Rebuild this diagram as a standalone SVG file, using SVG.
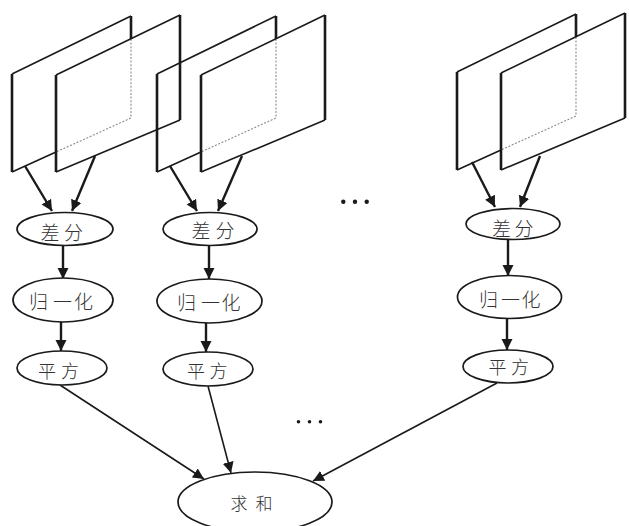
<svg xmlns="http://www.w3.org/2000/svg" xmlns:xlink="http://www.w3.org/1999/xlink" width="629" height="526" viewBox="0 0 629 526">
<style>
.bg{fill:#ffffff}
.edge{fill:none;stroke:#1a1a1a;stroke-width:1.6;stroke-linejoin:miter}
.vert{fill:none;stroke:#1a1a1a;stroke-width:2.6}
.hid{fill:none;stroke:#8a8a8a;stroke-width:1.1;stroke-dasharray:2 1.6}
.node{fill:#ffffff;stroke:#1a1a1a;stroke-width:1.7}
.lbl{font-family:"Noto Sans CJK SC","Noto Sans CJK JP",sans-serif;font-weight:300;font-size:19px;fill:#333333;text-anchor:middle;dominant-baseline:central}
.small{font-size:18px}
.sum{font-size:17px}
.thick{fill:none;stroke:#1a1a1a;stroke-width:2.4;marker-end:url(#ah)}
.thin{fill:none;stroke:#1a1a1a;stroke-width:1.6;marker-end:url(#ah)}
.dot{fill:#1a1a1a}
</style>
<defs>
<marker id="ah" markerUnits="userSpaceOnUse" markerWidth="12" markerHeight="12" refX="11" refY="6" orient="auto">
<path d="M0,0.5 L11,6 L0,11.5 Z" fill="#1a1a1a"/>
</marker>
<g id="framepair">
<!-- back frame -->
<path class="edge" d="M12,172 L56,152 M12,74 L131,16"/>
<path class="vert" d="M12,74 L12,172 M131,16 L131,39"/>
<path class="hid" d="M131,39 L131,118 L56,152"/>
<!-- front frame -->
<path class="edge" d="M56,75 L180,15 M56,172 L180,120"/>
<path class="vert" d="M56,75 L56,172 M180,15 L180,120"/>
</g>
</defs>
<rect class="bg" x="0" y="0" width="629" height="526"/>

<g id="frames1"><use xlink:href="#framepair" href="#framepair"/></g>
<g id="frames2"><use xlink:href="#framepair" href="#framepair" transform="translate(145,0)"/></g>
<g id="frames3"><use xlink:href="#framepair" href="#framepair" transform="translate(445,-2)"/></g>

<g id="connectors">
<line class="thick" x1="25" y1="166" x2="52" y2="211"/>
<line class="thick" x1="95" y1="156" x2="72" y2="211"/>
<line class="thick" x1="170" y1="166" x2="197" y2="211"/>
<line class="thick" x1="242" y1="156" x2="218" y2="211"/>
<line class="thick" x1="472" y1="162" x2="495" y2="207"/>
<line class="thick" x1="540" y1="156" x2="520" y2="207"/>

<line class="thick" x1="63" y1="246" x2="63" y2="279"/>
<line class="thick" x1="209" y1="246" x2="209" y2="279"/>
<line class="thick" x1="508" y1="240" x2="508" y2="276"/>

<line class="thick" x1="61" y1="322" x2="61" y2="351"/>
<line class="thick" x1="206" y1="323" x2="206" y2="352"/>
<line class="thick" x1="507" y1="319" x2="507" y2="350"/>

<line class="thin" x1="60" y1="385" x2="204" y2="479"/>
<line class="thin" x1="208" y1="386" x2="231" y2="473"/>
<line class="thin" x1="497" y1="383" x2="313" y2="481"/>
</g>

<g id="diff1"><ellipse class="node" cx="65" cy="229" rx="48" ry="16.5"/><text class="lbl" x="50 73.5" y="231">差分</text></g>
<g id="diff2"><ellipse class="node" cx="210" cy="229" rx="47" ry="16.5"/><text class="lbl" x="201 225" y="229">差分</text></g>
<g id="diff3"><ellipse class="node" cx="513" cy="224" rx="47" ry="15.5"/><text class="lbl" x="501.5 524" y="227">差分</text></g>

<g id="norm1"><ellipse class="node" cx="63" cy="300" rx="50" ry="22"/><text class="lbl" x="38.5 62.5 83.5" y="300.5">归一化</text></g>
<g id="norm2"><ellipse class="node" cx="209.5" cy="301" rx="52.5" ry="22"/><text class="lbl" x="186.5 210.5 231" y="301.5">归一化</text></g>
<g id="norm3"><ellipse class="node" cx="509.5" cy="297" rx="52" ry="21.5"/><text class="lbl" x="488.5 510.5 531" y="298">归一化</text></g>

<g id="sq1"><ellipse class="node" cx="62" cy="368" rx="45" ry="17"/><text class="lbl small" x="47 70" y="370">平方</text></g>
<g id="sq2"><ellipse class="node" cx="208" cy="369" rx="45" ry="17"/><text class="lbl small" x="196 218.5" y="370">平方</text></g>
<g id="sq3"><ellipse class="node" cx="508" cy="366.5" rx="45" ry="16.5"/><text class="lbl small" x="497.5 520" y="366">平方</text></g>

<g id="sum"><ellipse class="node" cx="255" cy="502" rx="77" ry="30"/><text class="lbl sum" x="239 264" y="502">求和</text></g>

<g id="ellipsis-top"><circle class="dot" cx="343.3" cy="201.7" r="2.2"/><circle class="dot" cx="355" cy="201.7" r="2.2"/><circle class="dot" cx="366.7" cy="201.7" r="2.2"/></g>
<g id="ellipsis-bottom"><circle class="dot" cx="298.5" cy="421.7" r="1.8"/><circle class="dot" cx="309.5" cy="421.7" r="1.8"/><circle class="dot" cx="320.5" cy="421.7" r="1.8"/></g>
</svg>
